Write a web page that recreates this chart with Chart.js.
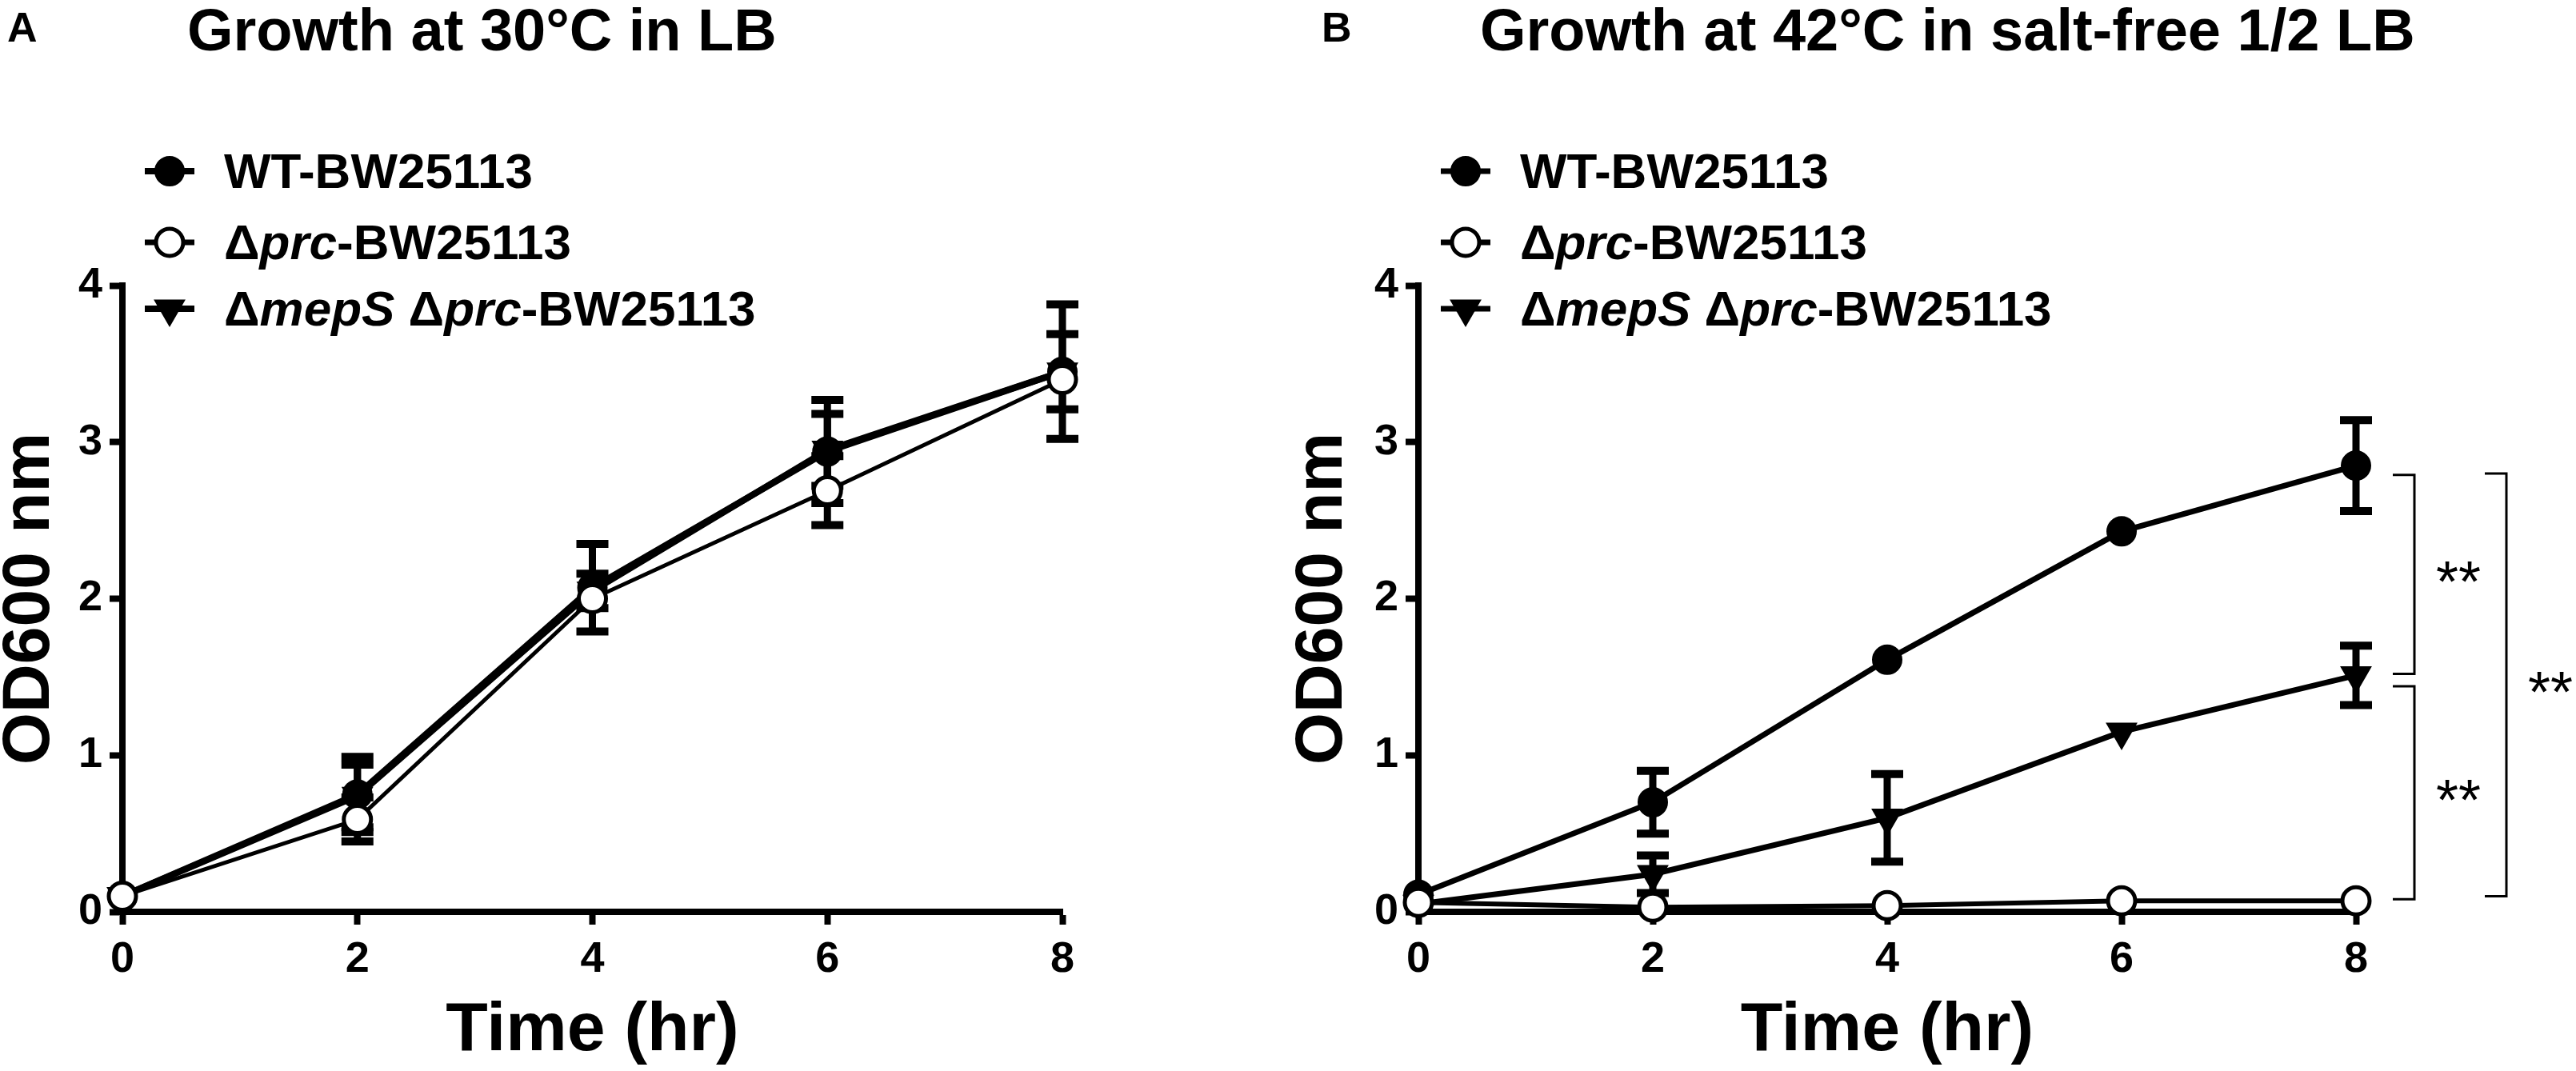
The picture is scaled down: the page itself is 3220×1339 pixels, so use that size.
<!DOCTYPE html>
<html><head><meta charset="utf-8">
<script src="https://cdn.jsdelivr.net/npm/chart.js@4.4.1/dist/chart.umd.min.js"></script>
<style>
html,body{margin:0;padding:0;background:#fff;width:3220px;height:1339px;overflow:hidden}
canvas{position:absolute;top:0}
#cA{left:0}
#cB{left:1610px}
</style></head><body>
<canvas id="cA" width="1610" height="1339"></canvas>
<canvas id="cB" width="1610" height="1339"></canvas>
<script>
// ---------- data ----------
const times = [0, 2, 4, 6, 8];
const xTickStep = 2;
const yTickStep = 1;
const titleA = 'Growth at 30°C in LB';
const titleB = 'Growth at 42°C in salt-free 1/2 LB';
const letterA = 'A';
const letterB = 'B';
const xTitle = 'Time (hr)';
const yTitle = 'OD600 nm';
const seriesNames = ['WT-BW25113', 'Δprc-BW25113', 'ΔmepS Δprc-BW25113'];
// legend text split into [text, italic] parts
const legendParts = [
  [['WT-BW25113', false]],
  [['Δ', false], ['prc', true], ['-BW25113', false]],
  [['Δ', false], ['mepS', true], [' Δ', false], ['prc', true], ['-BW25113', false]]
];

// Panel A: 30°C in LB
const wtA     = [0.10, 0.75, 2.07, 2.94, 3.45];
const wtAErr  = [0.00, 0.24, 0.28, 0.33, 0.43];
const prcA    = [0.10, 0.59, 2.00, 2.69, 3.40];
const prcAErr = [0.00, 0.14, 0.00, 0.22, 0.00];
const dblA    = [0.10, 0.74, 2.05, 2.95, 3.45];
const dblAErr = [0.00, 0.20, 0.11, 0.23, 0.24];

// Panel B: 42°C in salt-free 1/2 LB
const wtB     = [0.11, 0.70, 1.61, 2.43, 2.85];
const wtBErr  = [0.00, 0.20, 0.00, 0.00, 0.29];
const prcB    = [0.06, 0.03, 0.04, 0.07, 0.07];
const prcBErr = [0.00, 0.00, 0.00, 0.00, 0.00];
const dblB    = [0.05, 0.24, 0.60, 1.15, 1.51];
const dblBErr = [0.00, 0.12, 0.28, 0.00, 0.19];

// significance brackets (panel B), values in OD600
const bracketFrom   = [2.79, 1.44, 2.80];
const bracketTo     = [1.52, 0.08, 0.10];
const bracketLevel  = [0, 0, 1];
const bracketLabels = ['**', '**', '**'];

// ---------- helpers ----------
const FONT = '"Liberation Sans", Arial, Helvetica, sans-serif';
Chart.defaults.font.family = FONT;
Chart.defaults.color = '#000';

function pts(arr) { return times.map((t, i) => ({ x: t, y: arr[i] })); }

function drawMarker(ctx, style, x, y, r, fill, bw) {
  ctx.save();
  ctx.fillStyle = fill; ctx.strokeStyle = '#000'; ctx.lineWidth = bw;
  ctx.beginPath();
  if (style === 'triangle') {
    ctx.moveTo(x, y + r);
    ctx.lineTo(x - r * Math.sin(Math.PI / 3), y - r / 2);
    ctx.lineTo(x + r * Math.sin(Math.PI / 3), y - r / 2);
    ctx.closePath();
  } else {
    ctx.arc(x, y, r, 0, Math.PI * 2);
  }
  ctx.fill(); ctx.stroke();
  ctx.restore();
}

const errorBarPlugin = {
  id: 'errorBars',
  beforeDatasetsDraw(chart) {
    const { ctx } = chart; const x = chart.scales.x, y = chart.scales.y;
    ctx.save();
    ctx.strokeStyle = '#000';
    chart.data.datasets.forEach(ds => {
      const errs = ds.errors; if (!errs) return;
      ds.data.forEach((p, i) => {
        const e = errs[i]; if (!e) return;
        const px = x.getPixelForValue(p.x);
        const yt = y.getPixelForValue(p.y + e), yb = y.getPixelForValue(p.y - e);
        ctx.lineWidth = 9;
        ctx.beginPath(); ctx.moveTo(px, yt); ctx.lineTo(px, yb); ctx.stroke();
        ctx.lineWidth = 10;
        ctx.beginPath();
        ctx.moveTo(px - 20, yt); ctx.lineTo(px + 20, yt);
        ctx.moveTo(px - 20, yb); ctx.lineTo(px + 20, yb);
        ctx.stroke();
      });
    });
    ctx.restore();
  }
};

const decoPlugin = {
  id: 'deco',
  afterDraw(chart, args, o) {
    const { ctx, chartArea } = chart; const y = chart.scales.y;
    ctx.save();
    ctx.fillStyle = '#000';
    ctx.textAlign = 'left'; ctx.textBaseline = 'alphabetic';
    // panel letter
    ctx.font = 'bold 52px ' + FONT;
    ctx.fillText(o.letter, o.letterX, 52);
    // title
    ctx.font = 'bold 74px ' + FONT;
    ctx.fillText(o.title, o.titleX, 63);
    // legend
    chart.data.datasets.forEach((ds, i) => {
      const cy = o.legendRows[i];
      const mx = chartArea.left + 59;
      ctx.save();
      ctx.strokeStyle = '#000'; ctx.lineWidth = Math.max(ds.borderWidth, 7);
      ctx.beginPath(); ctx.moveTo(mx - 31, cy); ctx.lineTo(mx + 31, cy); ctx.stroke();
      ctx.restore();
      drawMarker(ctx, ds.pointStyle, mx, cy, ds.pointRadius, ds.pointBackgroundColor, ds.pointBorderWidth);
      let tx = chartArea.left + 127;
      legendParts[i].forEach(([t, it]) => {
        ctx.font = (it ? 'italic ' : '') + 'bold 62px ' + FONT;
        ctx.fillText(t, tx, cy + 21);
        tx += ctx.measureText(t).width;
      });
    });
    // brackets
    if (o.brackets) {
      ctx.strokeStyle = '#000'; ctx.lineWidth = 3;
      const offs = [73, 188];
      bracketFrom.forEach((f, i) => {
        const xl = chartArea.right + offs[bracketLevel[i]];
        const y1 = y.getPixelForValue(f), y2 = y.getPixelForValue(bracketTo[i]);
        ctx.beginPath();
        ctx.moveTo(xl - 27, y1); ctx.lineTo(xl, y1); ctx.lineTo(xl, y2); ctx.lineTo(xl - 27, y2);
        ctx.stroke();
        ctx.font = '72px ' + FONT; ctx.textAlign = 'center';
        ctx.fillText(bracketLabels[i], xl + 55, (y1 + y2) / 2 + 34);
      });
    }
    ctx.restore();
  }
};

function makePanel(id, cfg) {
  const lw = cfg.lineWidths;
  const datasets = [
    { label: seriesNames[0], data: pts(cfg.wt), errors: cfg.wtErr, borderColor: '#000', borderWidth: lw[0],
      pointStyle: 'circle', pointRadius: 17, pointHoverRadius: 17, pointBorderWidth: 4,
      pointBackgroundColor: '#000', pointBorderColor: '#000', order: 2, clip: false },
    { label: seriesNames[1], data: pts(cfg.prc), errors: cfg.prcErr, borderColor: '#000', borderWidth: lw[1],
      pointStyle: 'circle', pointRadius: 17, pointHoverRadius: 17, pointBorderWidth: 5,
      pointBackgroundColor: '#fff', pointBorderColor: '#000', order: 0, clip: false },
    { label: seriesNames[2], data: pts(cfg.dbl), errors: cfg.dblErr, borderColor: '#000', borderWidth: lw[2],
      pointStyle: 'triangle', rotation: 180, pointRadius: 20, pointHoverRadius: 20, pointBorderWidth: 3,
      pointBackgroundColor: '#000', pointBorderColor: '#000', order: 1, clip: false }
  ];
  const axisGrid = { display: true, drawOnChartArea: false, drawTicks: true, tickLength: 16, tickWidth: 8, tickColor: '#000' };
  const axisBorder = { display: true, width: 8, color: '#000' };
  return new Chart(document.getElementById(id), {
    type: 'line',
    data: { datasets },
    plugins: [errorBarPlugin, decoPlugin],
    options: {
      responsive: false, maintainAspectRatio: false, animation: false, devicePixelRatio: 1,
      events: [],
      layout: { padding: { left: 0, top: 357, right: cfg.padRight, bottom: 0 } },
      elements: { line: { tension: 0 } },
      plugins: {
        legend: { display: false }, tooltip: { enabled: false }, title: { display: false },
        deco: { letter: cfg.letter, letterX: cfg.letterX, title: cfg.title, titleX: cfg.titleX,
                legendRows: [214, 303, 386], brackets: cfg.brackets }
      },
      scales: {
        x: {
          type: 'linear', min: 0, max: 8,
          ticks: { stepSize: xTickStep, font: { size: 54, weight: 'bold' }, color: '#000', padding: 12 },
          grid: axisGrid, border: axisBorder,
          title: { display: true, text: xTitle, color: '#000', font: { size: 86, weight: 'bold', lineHeight: 1 }, padding: { top: 0, bottom: 7 } },
          afterFit(s) { s.height = 199; }
        },
        y: {
          type: 'linear', min: 0, max: 4,
          ticks: { stepSize: yTickStep, font: { size: 54, weight: 'bold' }, color: '#000', padding: 9 },
          grid: axisGrid, border: axisBorder,
          title: { display: true, text: yTitle, color: '#000', font: { size: 84, weight: 'bold', lineHeight: 0.9 }, padding: { top: cfg.yTitlePad, bottom: 0 } },
          afterFit(s) { s.width = cfg.axisLeft; }
        }
      }
    }
  });
}

makePanel('cA', { wt: wtA, wtErr: wtAErr, prc: prcA, prcErr: prcAErr, dbl: dblA, dblErr: dblAErr,
  lineWidths: [8, 5, 8], padRight: 1610 - 1328, axisLeft: 153, yTitlePad: 0,
  letter: letterA, letterX: 9, title: titleA, titleX: 234, brackets: false });
makePanel('cB', { wt: wtB, wtErr: wtBErr, prc: prcB, prcErr: prcBErr, dbl: dblB, dblErr: dblBErr,
  lineWidths: [7, 6, 7], padRight: 1610 - 1335, axisLeft: 163, yTitlePad: 6,
  letter: letterB, letterX: 42, title: titleB, titleX: 240, brackets: true });
</script>
</body></html>
